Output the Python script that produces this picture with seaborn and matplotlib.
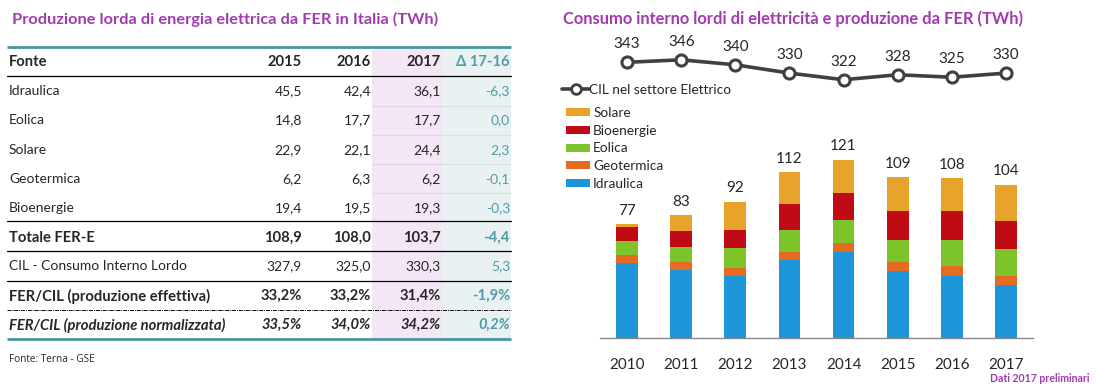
import numpy as np
import pandas as pd
import matplotlib
matplotlib.use("Agg")
import matplotlib.pyplot as plt
import seaborn as sns
from matplotlib.patches import Patch, Rectangle
from matplotlib.lines import Line2D

# ---------------- data ----------------
table_years = ["2015", "2016", "2017"]
table_sources = ["Idraulica", "Eolica", "Solare", "Geotermica", "Bioenergie"]
tab_2015 = ["45,5", "14,8", "22,9", "6,2", "19,4"]
tab_2016 = ["42,4", "17,7", "22,1", "6,3", "19,5"]
tab_2017 = ["36,1", "17,7", "24,4", "6,2", "19,3"]
tab_delta = ["-6,3", "0,0", "2,3", "-0,1", "-0,3"]
tot_row = ["Totale FER-E", "108,9", "108,0", "103,7", "-4,4"]
cil_row = ["CIL - Consumo Interno Lordo", "327,9", "325,0", "330,3", "5,3"]
eff_row = ["FER/CIL (produzione effettiva)", "33,2%", "33,2%", "31,4%", "-1,9%"]
norm_row = ["FER/CIL (produzione normalizzata)", "33,5%", "34,0%", "34,2%", "0,2%"]

years = ["2010", "2011", "2012", "2013", "2014", "2015", "2016", "2017"]
idraulica = [51.1, 45.8, 41.9, 52.8, 58.5, 45.5, 42.4, 36.1]
geotermica = [5.4, 5.7, 5.6, 5.7, 5.9, 6.2, 6.3, 6.2]
eolica = [9.1, 9.9, 13.4, 14.9, 15.2, 14.8, 17.7, 17.7]
bioenergie = [9.4, 10.8, 12.5, 17.1, 18.7, 19.4, 19.5, 19.3]
solare = [1.9, 10.8, 18.9, 21.6, 22.3, 22.9, 22.1, 24.4]
cil = [343, 346, 340, 330, 322, 328, 325, 330]

# ---------------- style ----------------
sns.set_style("white")
plt.rcParams["font.family"] = ["Lato", "DejaVu Sans"]

PURPLE = "#A23AB0"
TEAL = "#4A959E"
TEAL_TXT = "#4E9CA7"
C_IDR = "#1C96D8"
C_GEO = "#E66B22"
C_EOL = "#7DC42A"
C_BIO = "#C00A16"
C_SOL = "#E8A42A"

W, H = 1096, 387
fig = plt.figure(figsize=(W / 100, H / 100), dpi=100)
fig.patch.set_facecolor("white")

# full-figure canvas axes in pixel coordinates
cv = fig.add_axes([0, 0, 1, 1])
cv.set_xlim(0, W)
cv.set_ylim(H, 0)
cv.axis("off")

# ---------------- left table ----------------
cv.text(12, 19, "Produzione lorda di energia elettrica da FER in Italia (TWh)",
        color=PURPLE, fontsize=11.8, fontweight="bold", va="center", ha="left")

x0, x1 = 7, 511
# column bands
cv.add_patch(Rectangle((372, 46.5), 70, 292, facecolor="#F3E6F5", edgecolor="none", zorder=0))
cv.add_patch(Rectangle((442, 46.5), 69, 292, facecolor="#EAF1F2", edgecolor="none", zorder=0))
for yy in [105.5, 134.5, 163.5, 192.5]:
    cv.plot([372, 442], [yy, yy], color="#E4CFE8", lw=0.8, zorder=1)
    cv.plot([442, 511], [yy, yy], color="#D6E4E6", lw=0.8, zorder=1)

col_x = [302, 371, 441, 510]
fs = 10.0
fsb = 10.6

# header
cv.text(9, 62, "Fonte", fontsize=fsb, fontweight="bold", va="center")
for cx, t in zip(col_x[:3], table_years):
    cv.text(cx, 62, t, fontsize=fsb, fontweight="bold", va="center", ha="right")
cv.text(col_x[3], 62, "Δ 17-16", fontsize=fsb, fontweight="bold", va="center", ha="right", color=TEAL_TXT)

row_y = [91, 120, 150, 179, 208]
for i, src in enumerate(table_sources):
    y = row_y[i]
    cv.text(9, y, src, fontsize=fs, va="center")
    for cx, v in zip(col_x[:3], [tab_2015[i], tab_2016[i], tab_2017[i]]):
        cv.text(cx, y, v, fontsize=fs, va="center", ha="right")
    cv.text(col_x[3], y, tab_delta[i], fontsize=fs, va="center", ha="right", color=TEAL_TXT)

def full_row(vals, y, weight="normal", style="normal", size=fs):
    cv.text(9, y, vals[0], fontsize=size, va="center", fontweight=weight, fontstyle=style)
    for cx, v in zip(col_x[:3], vals[1:4]):
        cv.text(cx, y, v, fontsize=size, va="center", ha="right", fontweight=weight, fontstyle=style)
    cv.text(col_x[3], y, vals[4], fontsize=size, va="center", ha="right", fontweight=weight,
            fontstyle=style, color=TEAL_TXT)

full_row(tot_row, 237.5, weight="bold", size=fsb)
full_row(cil_row, 266)
full_row(eff_row, 296, weight="bold", size=fsb)
full_row(norm_row, 325, weight="bold", style="italic", size=fsb)

cv.plot([x0, x1], [46.5, 46.5], color=TEAL, lw=2.0, solid_capstyle="butt")
cv.plot([x0, x1], [75.5, 75.5], color="black", lw=0.9)
cv.plot([x0, x1], [221, 221], color="black", lw=0.9)
cv.plot([x0, x1], [251, 251], color="black", lw=0.9)
cv.plot([x0, x1], [281, 281], color="black", lw=0.9)
cv.plot([x0, x1], [309.5, 309.5], color="black", lw=0.7, ls=(0, (4, 1, 1, 1)))
cv.plot([x0, x1], [338.5, 338.5], color=TEAL, lw=2.0, solid_capstyle="butt")

cv.text(9, 359, "Fonte: Terna - GSE", fontsize=7.2, va="center", family=["Open Sans", "DejaVu Sans"])

# ---------------- right chart ----------------
cv.text(563, 19, "Consumo interno lordi di elettricità e produzione da FER (TWh)",
        color=PURPLE, fontsize=11.9, fontweight="bold", va="center", ha="left")
cv.text(1090, 378, "Dati 2017 preliminari", color=PURPLE, fontsize=7.6,
        fontweight="bold", va="center", ha="right")

px_per_twh = 1.481
ax_bottom_px, ax_top_px = 338.3, 100.0
bx = fig.add_axes([600 / W, (H - ax_bottom_px) / H, 433 / W, (ax_bottom_px - ax_top_px) / H])
bx.patch.set_alpha(0)

df = pd.DataFrame({"year": years, "Idraulica": idraulica, "Geotermica": geotermica,
                   "Eolica": eolica, "Bioenergie": bioenergie, "Solare": solare})
order = ["Idraulica", "Geotermica", "Eolica", "Bioenergie", "Solare"]
colors = {"Idraulica": C_IDR, "Geotermica": C_GEO, "Eolica": C_EOL,
          "Bioenergie": C_BIO, "Solare": C_SOL}
cum = df[order].cumsum(axis=1)
for name in reversed(order):
    sns.barplot(x=df["year"], y=cum[name], color=colors[name], width=0.4,
                saturation=1, ax=bx, linewidth=0, zorder=2)

totals = df[order].sum(axis=1)
for i, t in enumerate(totals):
    bx.text(i, t + 4.5, f"{t:.0f}", ha="center", va="bottom", fontsize=11)

bx.set_xlim(-0.5, 7.5)
bx.set_ylim(0, (ax_bottom_px - ax_top_px) / px_per_twh)
bx.set_xlabel("")
bx.set_ylabel("")
bx.set_yticks([])
for s in ["top", "right", "left"]:
    bx.spines[s].set_visible(False)
bx.spines["bottom"].set_color("#8A8A8A")
bx.spines["bottom"].set_linewidth(1.0)
bx.tick_params(axis="x", which="major", length=0, pad=14, labelsize=11)
bx.set_xticks(np.arange(-0.5, 8.0, 1.0), minor=True)
bx.tick_params(axis="x", which="minor", length=5, width=1.0, color="#8A8A8A", direction="out")

# line axes
line_top_px, line_bot_px = 40.0, 100.0
px_per_unit = 0.83
lo = 343 - (line_bot_px - 62.3) / px_per_unit
hi = lo + (line_bot_px - line_top_px) / px_per_unit
lx = fig.add_axes([600 / W, (H - line_bot_px) / H, 433 / W, (line_bot_px - line_top_px) / H])
lx.patch.set_alpha(0)
xs = np.arange(len(years))
sns.lineplot(x=xs, y=cil, ax=lx, color="#404040", lw=2.6, marker="o", markersize=8,
             markerfacecolor="white", markeredgecolor="#404040", markeredgewidth=2.2)
for i, v in enumerate(cil):
    lx.annotate(f"{v}", (i, v), xytext=(0, 13), textcoords="offset points",
                ha="center", va="center", fontsize=11)
lx.set_xlim(-0.5, 7.5)
lx.set_ylim(lo, hi)
lx.axis("off")

# legends
line_handle = Line2D([0], [0], color="#404040", lw=2.6, marker="o", markersize=7,
                     markerfacecolor="white", markeredgecolor="#404040", markeredgewidth=2.0)
fig.legend([line_handle], ["CIL nel settore Elettrico"], loc="center left",
           bbox_to_anchor=(562 / W, 1 - 90 / H), frameon=False, fontsize=9.8,
           handlelength=2.0, handletextpad=0.0, borderpad=0, borderaxespad=0)

leg_names = ["Solare", "Bioenergie", "Eolica", "Geotermica", "Idraulica"]
leg_handles = [Patch(facecolor=colors[n], edgecolor="none") for n in leg_names]
fig.legend(leg_handles, leg_names, loc="upper left",
           bbox_to_anchor=(566 / W, 1 - 107 / H), frameon=False, fontsize=9.8,
           handlelength=1.75, handleheight=0.55, handletextpad=0.25,
           labelspacing=0.42, borderpad=0, borderaxespad=0)

fig.savefig("out.png", dpi=100, facecolor="white")
